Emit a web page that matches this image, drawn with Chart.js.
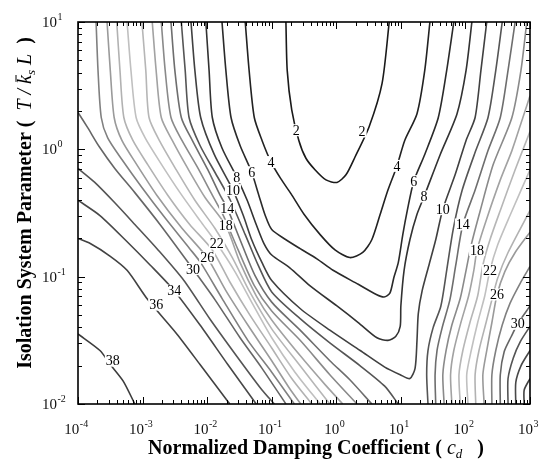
<!DOCTYPE html>
<html>
<head>
<meta charset="utf-8">
<script src="https://cdn.jsdelivr.net/npm/chart.js@4.4.0/dist/chart.umd.min.js"></script>
<style>
  html, body { margin: 0; padding: 0; background: #fff; }
  canvas { display: block; }
</style>
</head>
<body>
<canvas id="contourChart" width="544" height="462"></canvas>
<script>
// contour lines, as [log10(cd), log10(T/ksL)] pairs
const c2 = [[-0.78,1.00],[-0.76,0.62],[-0.69,0.31],[-0.58,0.07],[-0.47,-0.07],[-0.33,-0.16],[-0.16,-0.24],[0.01,-0.26],[0.15,-0.20],[0.29,-0.06],[0.51,0.18],[0.71,0.52],[0.82,1.00]];
const c4 = [[-1.41,1.00],[-1.35,0.62],[-1.27,0.25],[-1.15,0.07],[-1.01,-0.10],[-0.86,-0.23],[-0.70,-0.35],[-0.50,-0.51],[-0.25,-0.67],[-0.02,-0.79],[0.21,-0.85],[0.41,-0.81],[0.55,-0.71],[0.68,-0.51],[0.80,-0.32],[0.94,-0.13],[1.06,0.07],[1.25,0.28],[1.37,0.62],[1.45,1.00]];
const c6 = [[-1.77,1.00],[-1.71,0.62],[-1.63,0.25],[-1.49,0.03],[-1.31,-0.18],[-1.20,-0.36],[-1.10,-0.52],[-1.00,-0.63],[-0.78,-0.71],[-0.56,-0.78],[-0.30,-0.86],[-0.05,-0.95],[0.34,-1.06],[0.62,-1.14],[0.74,-1.16],[0.83,-1.13],[0.89,-1.01],[0.96,-0.89],[1.03,-0.67],[1.10,-0.48],[1.20,-0.25],[1.37,-0.04],[1.58,0.25],[1.71,0.62],[1.82,1.00]];
const c8 = [[-2.02,1.00],[-1.97,0.62],[-1.92,0.25],[-1.77,0.01],[-1.54,-0.22],[-1.38,-0.40],[-1.24,-0.59],[-1.12,-0.74],[-1.00,-0.83],[-0.72,-0.93],[-0.41,-1.07],[0.01,-1.23],[0.34,-1.36],[0.63,-1.48],[0.80,-1.50],[0.92,-1.47],[0.99,-1.39],[1.00,-1.23],[1.05,-0.95],[1.14,-0.71],[1.25,-0.51],[1.36,-0.37],[1.61,-0.04],[1.87,0.28],[2.01,0.62],[2.10,1.00]];
const c10 = [[-2.25,1.00],[-2.19,0.62],[-2.10,0.25],[-1.89,-0.04],[-1.60,-0.32],[-1.44,-0.52],[-1.31,-0.71],[-1.15,-0.89],[-1.00,-1.03],[-0.56,-1.25],[-0.10,-1.42],[0.37,-1.58],[0.75,-1.71],[0.99,-1.77],[1.14,-1.80],[1.22,-1.72],[1.25,-1.50],[1.27,-1.29],[1.33,-1.11],[1.44,-0.90],[1.54,-0.71],[1.65,-0.47],[1.84,-0.20],[2.01,0.07],[2.15,0.25],[2.24,0.62],[2.33,1.00]];
const c12a = [[-2.40,1.00],[-2.34,0.62],[-2.28,0.25],[-2.11,0.03],[-1.88,-0.18],[-1.65,-0.39],[-1.41,-0.67],[-1.21,-0.91],[-1.00,-1.12],[-0.56,-1.33],[-0.10,-1.52],[0.37,-1.70],[0.75,-1.86],[0.96,-2.00]];
const c12b = [[1.42,-2.00],[1.40,-1.77],[1.42,-1.58],[1.50,-1.40],[1.62,-1.23],[1.71,-0.95],[1.81,-0.63],[1.95,-0.32],[2.16,-0.01],[2.35,0.25],[2.47,0.62],[2.57,1.00]];
const c14a = [[-2.56,1.00],[-2.50,0.62],[-2.40,0.25],[-2.23,0.07],[-1.99,-0.16],[-1.80,-0.36],[-1.69,-0.46],[-1.49,-0.71],[-1.26,-0.99],[-1.00,-1.20],[-0.56,-1.42],[-0.10,-1.66],[0.21,-1.81],[0.55,-2.00]];
const c14b = [[1.54,-2.00],[1.53,-1.77],[1.56,-1.58],[1.64,-1.40],[1.76,-1.18],[1.85,-0.91],[1.96,-0.59],[2.15,-0.32],[2.35,-0.01],[2.54,0.25],[2.66,0.62],[2.77,1.00]];
const c16a = [[-2.71,1.00],[-2.65,0.62],[-2.56,0.25],[-2.39,0.07],[-2.14,-0.15],[-1.92,-0.36],[-1.74,-0.53],[-1.52,-0.79],[-1.27,-1.07],[-1.00,-1.27],[-0.56,-1.50],[-0.10,-1.77],[0.32,-2.00]];
const c16b = [[1.67,-2.00],[1.65,-1.77],[1.70,-1.58],[1.79,-1.38],[1.92,-1.17],[2.01,-0.95],[2.09,-0.75],[2.23,-0.48],[2.43,-0.12],[2.72,0.25],[2.86,0.62],[2.95,1.00]];
const c18a = [[-2.85,1.00],[-2.79,0.62],[-2.71,0.25],[-2.54,0.07],[-2.30,-0.15],[-2.03,-0.38],[-1.71,-0.60],[-1.49,-0.89],[-1.24,-1.15],[-1.00,-1.34],[-0.56,-1.62],[-0.17,-1.85],[0.10,-2.00]];
const c18b = [[1.79,-2.00],[1.77,-1.77],[1.82,-1.58],[1.93,-1.36],[2.05,-1.15],[2.13,-0.95],[2.18,-0.79],[2.32,-0.56],[2.54,-0.24],[2.72,-0.01],[2.89,0.25],[3.00,0.42]];
const c20a = [[-3.01,1.00],[-2.95,0.62],[-2.90,0.25],[-2.73,0.06],[-2.48,-0.16],[-2.19,-0.40],[-1.88,-0.62],[-1.61,-0.85],[-1.34,-1.12],[-1.00,-1.41],[-0.56,-1.70],[-0.10,-2.00]];
const c20b = [[1.92,-2.00],[1.90,-1.77],[1.96,-1.58],[2.07,-1.36],[2.19,-1.15],[2.27,-0.91],[2.38,-0.71],[2.54,-0.48],[2.77,-0.16],[3.00,0.14]];
const c22a = [[-3.24,1.00],[-3.18,0.62],[-3.10,0.25],[-2.96,0.09],[-2.73,-0.10],[-2.42,-0.34],[-2.11,-0.56],[-1.85,-0.74],[-1.57,-0.96],[-1.29,-1.22],[-1.00,-1.48],[-0.64,-1.75],[-0.25,-2.00]];
const c22b = [[2.04,-2.00],[2.02,-1.77],[2.09,-1.58],[2.19,-1.36],[2.30,-1.15],[2.38,-0.95],[2.50,-0.75],[2.69,-0.52],[3.00,-0.16]];
const c24a = [[-3.40,1.00],[-3.35,0.62],[-3.29,0.25],[-3.15,0.07],[-2.92,-0.12],[-2.61,-0.36],[-2.27,-0.59],[-1.92,-0.79],[-1.65,-1.04],[-1.34,-1.30],[-1.00,-1.56],[-0.69,-1.80],[-0.38,-2.00]];
const c24b = [[2.16,-2.00],[2.15,-1.77],[2.21,-1.58],[2.32,-1.36],[2.41,-1.18],[2.50,-1.01],[2.66,-0.81],[3.00,-0.48]];
const c26a = [[-3.55,1.00],[-3.50,0.62],[-3.44,0.25],[-3.32,0.07],[-3.09,-0.12],[-2.78,-0.36],[-2.39,-0.62],[-2.00,-0.85],[-1.71,-1.11],[-1.37,-1.38],[-1.00,-1.66],[-0.72,-1.88],[-0.55,-2.00]];
const c26b = [[2.29,-2.00],[2.27,-1.77],[2.33,-1.58],[2.41,-1.36],[2.49,-1.14],[2.61,-0.96],[2.77,-0.81],[3.00,-0.65]];
const c28a = [[-3.72,1.00],[-3.69,0.62],[-3.64,0.25],[-3.54,0.09],[-3.32,-0.08],[-3.01,-0.30],[-2.65,-0.54],[-2.27,-0.78],[-2.10,-0.89],[-1.77,-1.17],[-1.37,-1.50],[-1.00,-1.75],[-0.65,-2.00]];
const c28b = [[2.41,-2.00],[2.41,-1.77],[2.47,-1.58],[2.57,-1.38],[2.69,-1.21],[2.85,-1.05],[3.00,-0.92]];
const c30a = [[-4.00,0.29],[-3.85,0.17],[-3.67,0.02],[-3.43,-0.15],[-3.12,-0.34],[-2.73,-0.59],[-2.22,-0.94],[-1.88,-1.18],[-1.49,-1.48],[-1.15,-1.72],[-0.78,-2.00]];
const c30b = [[2.54,-2.00],[2.54,-1.77],[2.60,-1.59],[2.71,-1.47],[2.81,-1.37],[3.00,-1.23]];
const c32a = [[-4.00,-0.15],[-3.74,-0.26],[-3.43,-0.42],[-3.12,-0.59],[-2.76,-0.79],[-2.36,-1.03],[-1.96,-1.33],[-1.49,-1.66],[-1.15,-1.89],[-0.96,-2.00]];
const c32b = [[2.66,-2.00],[2.66,-1.80],[2.74,-1.64],[2.85,-1.51],[3.00,-1.39]];
const c34a = [[-4.00,-0.40],[-3.66,-0.52],[-3.27,-0.71],[-2.88,-0.91],[-2.51,-1.11],[-2.11,-1.38],[-1.68,-1.69],[-1.24,-2.00]];
const c34b = [[2.78,-2.00],[2.78,-1.83],[2.86,-1.70],[3.00,-1.58]];
const c36a = [[-4.00,-0.70],[-3.81,-0.74],[-3.50,-0.84],[-3.24,-0.95],[-2.92,-1.18],[-2.47,-1.45],[-2.11,-1.69],[-1.65,-2.00]];
const c36b = [[2.91,-2.00],[2.91,-1.89],[3.00,-1.80]];
const c38 = [[-4.00,-1.45],[-3.66,-1.58],[-3.50,-1.69],[-3.30,-1.82],[-3.12,-2.00]];

const lines = [
  [2, c2], [4, c4], [6, c6], [8, c8], [10, c10],
  [12, c12a], [12, c12b], [14, c14a], [14, c14b], [16, c16a], [16, c16b],
  [18, c18a], [18, c18b], [20, c20a], [20, c20b], [22, c22a], [22, c22b],
  [24, c24a], [24, c24b], [26, c26a], [26, c26b], [28, c28a], [28, c28b],
  [30, c30a], [30, c30b], [32, c32a], [32, c32b], [34, c34a], [34, c34b],
  [36, c36a], [36, c36b], [38, c38]
];

// gray shade of each level
const levelColors = {
  2: "#1a1a1a", 4: "#222222", 6: "#2a2a2a", 8: "#323232", 10: "#404040",
  12: "#555555", 14: "#6e6e6e", 16: "#8a8a8a", 18: "#a2a2a2", 20: "#b6b6b6",
  22: "#c0c0c0", 24: "#b2b2b2", 26: "#9a9a9a", 28: "#808080", 30: "#666666",
  32: "#545454", 34: "#484848", 36: "#424242", 38: "#3c3c3c"
};

// inline contour labels
const labelText = ["2", "2", "4", "4", "6", "6", "8", "8", "10", "10", "14", "14",
  "18", "18", "22", "22", "26", "26", "30", "30", "34", "36", "38"];
const labelPos = [[-0.62,0.15],[0.40,0.14],[-1.01,-0.10],[0.94,-0.13],[-1.31,-0.18],[1.20,-0.25],
  [-1.54,-0.22],[1.36,-0.37],[-1.60,-0.32],[1.65,-0.47],[-1.69,-0.46],[1.96,-0.59],
  [-1.71,-0.60],[2.18,-0.79],[-1.85,-0.74],[2.38,-0.95],[-2.00,-0.85],[2.49,-1.14],
  [-2.22,-0.94],[2.81,-1.37],[-2.51,-1.11],[-2.79,-1.22],[-3.46,-1.66]];

const xDecades = [-4, -3, -2, -1, 0, 1, 2, 3];
const yDecades = [-2, -1, 0, 1];

const SERIF = "'Liberation Serif', 'DejaVu Serif', serif";

function drawPow(ctx, exp, x, y, mode) {
  ctx.font = "15px " + SERIF;
  const wb = ctx.measureText("10").width;
  ctx.font = "10px " + SERIF;
  const we = ctx.measureText(String(exp)).width;
  let x0 = mode === "center" ? x - (wb + we) / 2 : x;
  ctx.font = "15px " + SERIF;
  ctx.fillText("10", x0, y);
  ctx.font = "10px " + SERIF;
  ctx.fillText(String(exp), x0 + wb + 0.5, y - 7);
}

function drawRuns(ctx, runs, cx, baseY) {
  let total = 0;
  runs.forEach(function (r) { ctx.font = r.f; r.w = ctx.measureText(r.t).width; total += r.w; });
  let x = cx - total / 2;
  runs.forEach(function (r) {
    ctx.font = r.f;
    ctx.fillText(r.t, x, baseY + (r.dy || 0));
    if (r.bar) {
      ctx.lineWidth = 1;
      ctx.beginPath();
      ctx.moveTo(x + 2, baseY - 15);
      ctx.lineTo(x + r.w, baseY - 15);
      ctx.stroke();
    }
    x += r.w;
  });
}

const decorPlugin = {
  id: "decor",
  afterDatasetsDraw(chart) {
    const ctx = chart.ctx;
    const xs = chart.scales.x, ys = chart.scales.y;
    const a = chart.chartArea;

    // contour labels
    ctx.save();
    ctx.font = "14px " + SERIF;
    ctx.textAlign = "center";
    ctx.textBaseline = "middle";
    labelText.forEach(function (t, i) {
      const px = xs.getPixelForValue(Math.pow(10, labelPos[i][0]));
      const py = ys.getPixelForValue(Math.pow(10, labelPos[i][1]));
      const w = ctx.measureText(t).width;
      ctx.fillStyle = "#fff";
      ctx.fillRect(px - w / 2 - 1, py - 6, w + 2, 12);
      ctx.fillStyle = "#000";
      ctx.fillText(t, px, py + 1);
    });
    ctx.restore();

    // frame and inward ticks
    ctx.save();
    ctx.strokeStyle = "#000";
    ctx.lineWidth = 1.6;
    ctx.strokeRect(a.left, a.top, a.right - a.left, a.bottom - a.top);
    ctx.lineWidth = 1;
    ctx.beginPath();
    xDecades.forEach(function (k) {
      for (let m = 1; m <= 9; m++) {
        if (k === 3 && m > 1) break;
        const px = Math.round(xs.getPixelForValue(m * Math.pow(10, k))) + 0.5;
        const len = m === 1 ? 7 : 4;
        ctx.moveTo(px, a.bottom); ctx.lineTo(px, a.bottom - len);
        ctx.moveTo(px, a.top); ctx.lineTo(px, a.top + len);
      }
    });
    yDecades.forEach(function (k) {
      for (let m = 1; m <= 9; m++) {
        if (k === 1 && m > 1) break;
        const py = Math.round(ys.getPixelForValue(m * Math.pow(10, k))) + 0.5;
        const len = m === 1 ? 7 : 4;
        ctx.moveTo(a.left, py); ctx.lineTo(a.left + len, py);
        ctx.moveTo(a.right, py); ctx.lineTo(a.right - len, py);
      }
    });
    ctx.stroke();

    // tick labels
    ctx.fillStyle = "#111";
    ctx.textAlign = "left";
    ctx.textBaseline = "alphabetic";
    xDecades.forEach(function (k) {
      drawPow(ctx, k, xs.getPixelForValue(Math.pow(10, k)) - 2, a.bottom + 30, "center");
    });
    yDecades.forEach(function (k) {
      drawPow(ctx, k, 42, ys.getPixelForValue(Math.pow(10, k)) + 5, "left");
    });

    // axis titles
    ctx.fillStyle = "#000";
    ctx.strokeStyle = "#000";
    const B = "bold 20px " + SERIF, I = "italic 20px " + SERIF, S = "italic 13px " + SERIF;
    drawRuns(ctx, [
      { t: "Normalized Damping Coefficient ( ", f: B },
      { t: "c", f: I },
      { t: "d", f: S, dy: 4 },
      { t: "   )", f: B }
    ], 316, 454);

    ctx.translate(31, 203);
    ctx.rotate(-Math.PI / 2);
    drawRuns(ctx, [
      { t: "Isolation System Parameter (  ", f: B },
      { t: "T / ", f: I },
      { t: "k", f: I, bar: true },
      { t: "s", f: S, dy: 4 },
      { t: " L", f: I },
      { t: "  )", f: B }
    ], 0, 0);
    ctx.restore();
  }
};

document.addEventListener("DOMContentLoaded", function () {
  const ctx = document.getElementById("contourChart");
  new Chart(ctx, {
    type: "scatter",
    data: {
      datasets: lines.map(function (ln) {
        return {
          label: "level " + ln[0],
          data: ln[1].map(function (p) { return { x: Math.pow(10, p[0]), y: Math.pow(10, p[1]) }; }),
          showLine: true,
          borderColor: levelColors[ln[0]],
          borderWidth: 1.6,
          pointRadius: 0,
          tension: 0.25,
          fill: false
        };
      })
    },
    options: {
      responsive: false,
      animation: false,
      layout: { padding: { left: 78, top: 22, right: 14, bottom: 58 } },
      scales: {
        x: { type: "logarithmic", min: 1e-4, max: 1e3, display: false },
        y: { type: "logarithmic", min: 1e-2, max: 1e1, display: false }
      },
      plugins: {
        legend: { display: false },
        tooltip: { enabled: false }
      }
    },
    plugins: [decorPlugin]
  });
});
</script>
</body>
</html>
